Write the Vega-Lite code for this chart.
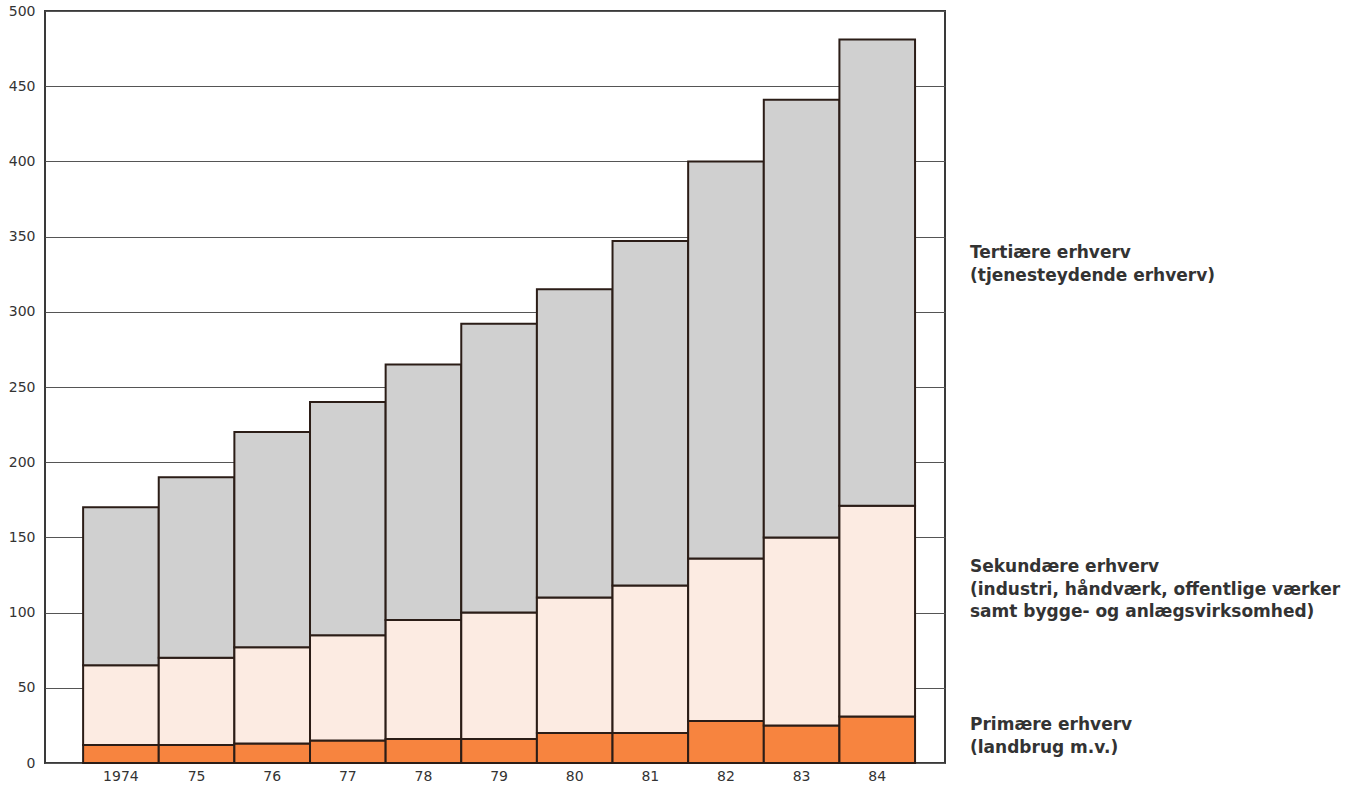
{
  "$schema": "https://vega.github.io/schema/vega-lite/v6.json",
  "width": 900,
  "height": 752,
  "autosize": {"type": "none"},
  "padding": {"left": 45, "top": 11, "right": 417, "bottom": 24},
  "background": "white",
  "config": {
    "view": {"stroke": "#3a3a3a", "strokeWidth": 2},
    "font": "DejaVu Sans"
  },
  "layer": [
    {
      "data": {
        "values": [
          {"year": "1974", "sector": "Primære", "value": 12},
          {"year": "1974", "sector": "Sekundære", "value": 53},
          {"year": "1974", "sector": "Tertiære", "value": 105},
          {"year": "75", "sector": "Primære", "value": 12},
          {"year": "75", "sector": "Sekundære", "value": 58},
          {"year": "75", "sector": "Tertiære", "value": 120},
          {"year": "76", "sector": "Primære", "value": 13},
          {"year": "76", "sector": "Sekundære", "value": 64},
          {"year": "76", "sector": "Tertiære", "value": 143},
          {"year": "77", "sector": "Primære", "value": 15},
          {"year": "77", "sector": "Sekundære", "value": 70},
          {"year": "77", "sector": "Tertiære", "value": 155},
          {"year": "78", "sector": "Primære", "value": 16},
          {"year": "78", "sector": "Sekundære", "value": 79},
          {"year": "78", "sector": "Tertiære", "value": 170},
          {"year": "79", "sector": "Primære", "value": 16},
          {"year": "79", "sector": "Sekundære", "value": 84},
          {"year": "79", "sector": "Tertiære", "value": 192},
          {"year": "80", "sector": "Primære", "value": 20},
          {"year": "80", "sector": "Sekundære", "value": 90},
          {"year": "80", "sector": "Tertiære", "value": 205},
          {"year": "81", "sector": "Primære", "value": 20},
          {"year": "81", "sector": "Sekundære", "value": 98},
          {"year": "81", "sector": "Tertiære", "value": 229},
          {"year": "82", "sector": "Primære", "value": 28},
          {"year": "82", "sector": "Sekundære", "value": 108},
          {"year": "82", "sector": "Tertiære", "value": 264},
          {"year": "83", "sector": "Primære", "value": 25},
          {"year": "83", "sector": "Sekundære", "value": 125},
          {"year": "83", "sector": "Tertiære", "value": 291},
          {"year": "84", "sector": "Primære", "value": 31},
          {"year": "84", "sector": "Sekundære", "value": 140},
          {"year": "84", "sector": "Tertiære", "value": 310}
        ]
      },
      "mark": {"type": "bar", "stroke": "#2b1d17", "strokeWidth": 2},
      "encoding": {
        "x": {
          "field": "year",
          "type": "ordinal",
          "sort": null,
          "scale": {"paddingInner": 0, "paddingOuter": 0.45, "align": 0.56},
          "axis": {
            "title": null,
            "labelAngle": 0,
            "ticks": false,
            "domain": false,
            "labelPadding": 6,
            "labelFontSize": 14,
            "labelColor": "#333",
            "labelFont": "DejaVu Sans"
          }
        },
        "y": {
          "field": "value",
          "type": "quantitative",
          "stack": "zero",
          "scale": {"domain": [0, 500], "nice": false},
          "axis": {
            "title": null,
            "values": [0, 50, 100, 150, 200, 250, 300, 350, 400, 450, 500],
            "ticks": false,
            "domain": false,
            "labelPadding": 10,
            "labelFontSize": 14,
            "labelFont": "DejaVu Sans",
            "labelColor": "#333",
            "gridColor": "#555",
            "gridOpacity": 1,
            "gridWidth": 1
          }
        },
        "color": {
          "field": "sector",
          "type": "nominal",
          "scale": {
            "domain": ["Primære", "Sekundære", "Tertiære"],
            "range": ["#f7843f", "#fcebe2", "#d0d0d0"]
          },
          "legend": null
        },
        "order": {"field": "sector", "sort": "ascending"}
      }
    },
    {
      "data": {
        "values": [
          {"label": "Tertiære erhverv\n(tjenesteydende erhverv)", "pos": 339},
          {"label": "Sekundære erhverv\n(industri, håndværk, offentlige værker\nsamt bygge- og anlægsvirksomhed)", "pos": 130},
          {"label": "Primære erhverv\n(landbrug m.v.)", "pos": 25}
        ]
      },
      "mark": {
        "type": "text",
        "align": "left",
        "baseline": "middle",
        "lineBreak": "\n",
        "lineHeight": 22.5,
        "fontSize": 17,
        "fontWeight": "bold",
        "font": "DejaVu Sans",
        "color": "#333",
        "clip": false,
        "x": {"expr": "width + 25"}
      },
      "encoding": {
        "y": {"field": "pos", "type": "quantitative"},
        "text": {"field": "label"}
      }
    }
  ]
}
